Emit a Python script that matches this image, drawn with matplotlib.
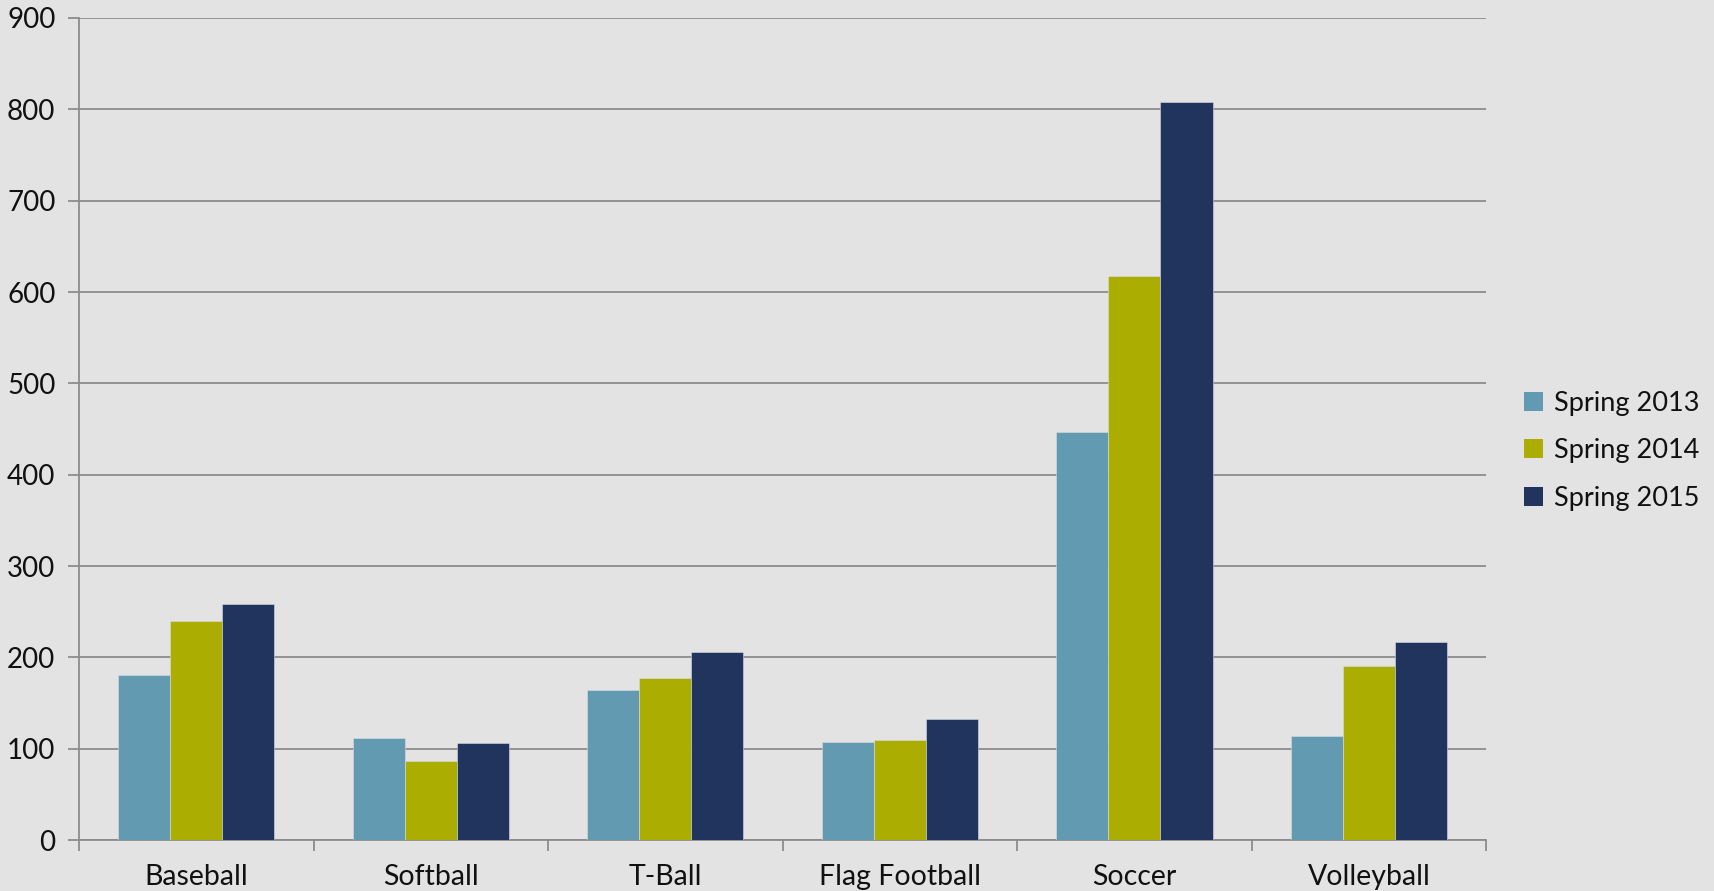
import numpy as np
import matplotlib.pyplot as plt
from matplotlib.patches import Patch

# ── Data ──────────────────────────────────────────────────────────────────────
sports = ['Baseball', 'Softball', 'T-Ball', 'Flag Football', 'Soccer', 'Volleyball']
spring_2013 = [181, 112, 164, 107, 447, 114]
spring_2014 = [240, 87, 177, 110, 618, 191]
spring_2015 = [258, 106, 206, 133, 808, 217]
series_labels = ['Spring 2013', 'Spring 2014', 'Spring 2015']
y_ticks = [0, 100, 200, 300, 400, 500, 600, 700, 800, 900]

COLORS = ['#629BB1', '#ABAE00', '#20345D']
BG = '#E3E3E3'
GRID = '#8C8C8C'
FONT = 'Lato'

plt.rcParams['font.family'] = [FONT, 'DejaVu Sans']

fig = plt.figure(figsize=(17.15, 8.91), dpi=100, facecolor=BG)
ax = fig.add_axes([0.0461, 0.0572, 0.8205, 0.9226], facecolor=BG)

x = np.arange(len(sports))
w = 0.222
for i, vals in enumerate([spring_2013, spring_2014, spring_2015]):
    ax.bar(x + (i - 1) * w, vals, w, color=COLORS[i], zorder=3,
           edgecolor='#D8DDE3', linewidth=0.4)

ax.set_xlim(-0.5, len(sports) - 0.5)
ax.set_ylim(0, 900)
ax.set_yticks(y_ticks)
ax.set_yticklabels([str(v) for v in y_ticks])
ax.yaxis.grid(True, color=GRID, linewidth=1.3, zorder=0)
ax.set_axisbelow(True)

# category labels centred, tick marks on the group boundaries
ax.set_xticks(x)
ax.set_xticklabels(sports)
ax.set_xticks(np.arange(len(sports) + 1) - 0.5, minor=True)
ax.tick_params(axis='x', which='major', length=0, pad=17, labelsize=20.5, labelcolor='#111111')
ax.tick_params(axis='x', which='minor', length=8, width=1.3, color=GRID, direction='out')
ax.tick_params(axis='y', length=8, width=1.3, color=GRID, pad=9, labelsize=20, labelcolor='#111111')

for s in ['top', 'right']:
    ax.spines[s].set_visible(False)
for s in ['left', 'bottom']:
    ax.spines[s].set_color(GRID)
    ax.spines[s].set_linewidth(1.3)

handles = [Patch(facecolor=c, edgecolor='none') for c in COLORS]
fig.legend(handles, series_labels, loc='center left', bbox_to_anchor=(0.8745, 0.494),
           frameon=False, fontsize=19.5, handlelength=0.7, handleheight=0.7,
           handletextpad=0.4, labelspacing=0.82, labelcolor='#111111')

fig.savefig('out.png', dpi=100, facecolor=BG)
